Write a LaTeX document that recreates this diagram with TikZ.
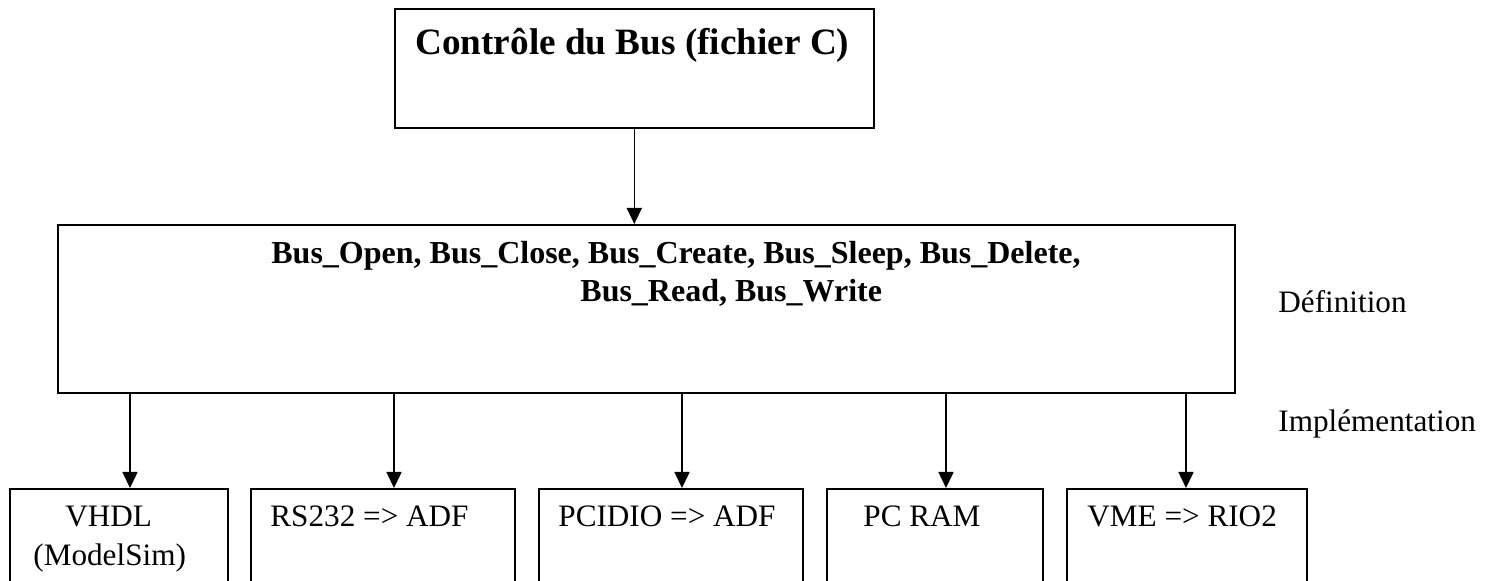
\documentclass[tikz,border=0pt]{standalone}
\usepackage{fontspec}
\setmainfont{Liberation Serif}
\usetikzlibrary{arrows.meta}
\tikzset{
  x=0.5pt, y=-0.5pt,
  box/.style={draw, line width=0.8pt, rectangle, inner sep=0pt, anchor=north west},
  txt/.style={inner sep=0pt, anchor=base west},
  big/.style={txt, font=\fontsize{18.6}{22}\selectfont\bfseries},
  mid/.style={txt, font=\fontsize{16}{19}\selectfont\bfseries},
  small/.style={txt, font=\fontsize{15.6}{19}\selectfont},
  arr/.style={line width=0.8pt, -{Triangle[length=8pt,width=7.5pt]}}
}
\begin{document}
\begin{tikzpicture}
\useasboundingbox (0,0) rectangle (1498,581);
\clip (0,0) rectangle (1498,581);
% boxes
\node[box, minimum width=239.5pt, minimum height=59.5pt] (top) at (394,8) {};
\node[box, minimum width=588.5pt, minimum height=84pt] (def) at (57,224) {};
\node[box, minimum width=109pt, minimum height=60pt] (b1) at (9,488) {};
\node[box, minimum width=132pt, minimum height=60pt] (b2) at (250,488) {};
\node[box, minimum width=132pt, minimum height=60pt] (b3) at (538,488) {};
\node[box, minimum width=108pt, minimum height=60pt] (b4) at (826,488) {};
\node[box, minimum width=120pt, minimum height=60pt] (b5) at (1066,488) {};
% texts
\node[big] (ttop) at (415,55) {Contrôle du Bus (fichier C)};
\node[mid] (tdef1) at (271,264) {Bus\_Open, Bus\_Close, Bus\_Create, Bus\_Sleep, Bus\_Delete,};
\node[mid] (tdef2) at (580,302) {Bus\_Read, Bus\_Write};
\node[small] (t1a) at (65,527) {VHDL};
\node[small] (t1b) at (33,566) {(ModelSim)};
\node[small] (t2) at (270,527) {RS232 => ADF};
\node[small] (t3) at (558,527) {PCIDIO => ADF};
\node[small] (t4) at (863,527) {PC RAM};
\node[small] (t5) at (1087,527) {VME => RIO2};
\node[small] (ldef) at (1278,313) {Définition};
\node[small] (limp) at (1278,432) {Implémentation};
% connectors
\draw[arr] (top.south) -- (top.south |- def.north);
\coordinate (c1) at (130,0);
\coordinate (c2) at (394,0);
\coordinate (c3) at (682,0);
\coordinate (c4) at (946,0);
\coordinate (c5) at (1186,0);
\draw[arr] (def.south -| c1) -- (b1.north -| c1);
\draw[arr] (def.south -| c2) -- (b2.north -| c2);
\draw[arr] (def.south -| c3) -- (b3.north -| c3);
\draw[arr] (def.south -| c4) -- (b4.north -| c4);
\draw[arr] (def.south -| c5) -- (b5.north -| c5);
\end{tikzpicture}
\end{document}
